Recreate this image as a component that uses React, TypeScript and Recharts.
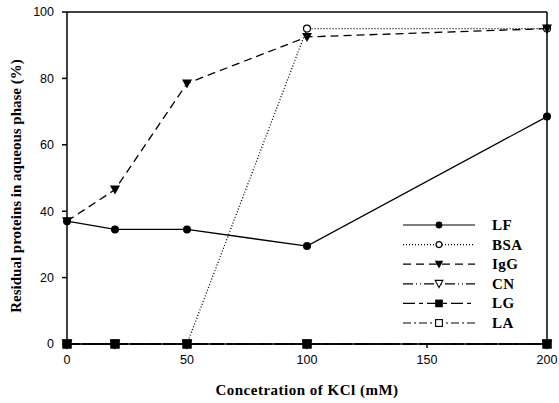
import { LineChart, Line, XAxis, YAxis, ReferenceLine } from "recharts";

// KCl concentration (mM) and residual protein (%) for each protein
const kcl = [0, 20, 50, 100, 200];
const lf = [37, 34.5, 34.5, 29.5, 68.5];
const bsa = [0, 0, 0, 95, 95];
const igg = [37, 46.5, 78.5, 92.5, 95];
const cn = [0, 0, 0, 0, 0];
const lg = [0, 0, 0, 0, 0];
const la = [0, 0, 0, 0, 0];

const xTicks = [0, 50, 100, 150, 200];
const yTicks = [0, 20, 40, 60, 80, 100];

const data = kcl.map((c, i) => ({
  kcl: c,
  LF: lf[i],
  BSA: bsa[i],
  IgG: igg[i],
  CN: cn[i],
  LG: lg[i],
  LA: la[i],
}));

type Shape = "circle" | "openCircle" | "tri" | "openTri" | "square" | "openSquare";

const series: { key: string; dash?: string; shape: Shape }[] = [
  { key: "BSA", dash: "1 2", shape: "openCircle" },
  { key: "CN", dash: "10 3 1 3 1 3", shape: "openTri" },
  { key: "LA", dash: "8 3 2 3", shape: "openSquare" },
  { key: "LF", shape: "circle" },
  { key: "IgG", dash: "8 5", shape: "tri" },
  { key: "LG", dash: "12 4 4 4", shape: "square" },
];

const legendOrder = ["LF", "BSA", "IgG", "CN", "LG", "LA"];

function Marker({ cx, cy, shape, s = 1 }: { cx: number; cy: number; shape: Shape; s?: number }) {
  switch (shape) {
    case "circle":
      return <circle cx={cx} cy={cy} r={4 * s} fill="#000" />;
    case "openCircle":
      return <circle cx={cx} cy={cy} r={3.5 * s} fill="#fff" stroke="#000" strokeWidth={1.2} />;
    case "tri":
      return (
        <path d={`M${cx - 5 * s},${cy - 4 * s} L${cx + 5 * s},${cy - 4 * s} L${cx},${cy + 5 * s} Z`} fill="#000" />
      );
    case "openTri":
      return (
        <path
          d={`M${cx - 4.5 * s},${cy - 4 * s} L${cx + 4.5 * s},${cy - 4 * s} L${cx},${cy + 4.5 * s} Z`}
          fill="#fff"
          stroke="#000"
          strokeWidth={1.1}
        />
      );
    case "square":
      return <rect x={cx - 4.5 * s} y={cy - 4.5 * s} width={9 * s} height={9 * s} fill="#000" />;
    default:
      return (
        <rect x={cx - 4 * s} y={cy - 4 * s} width={8 * s} height={8 * s} fill="#fff" stroke="#000" strokeWidth={1.1} />
      );
  }
}

const shapeOf = (k: string) => series.find((s) => s.key === k)!;

const LegendBox = () => (
  <svg width={160} height={125}>
    {legendOrder.map((k, i) => {
      const s = shapeOf(k);
      const y = 8 + i * 19.6;
      return (
        <g key={k}>
          <line x1={3} x2={75} y1={y} y2={y} stroke="#000" strokeWidth={1.2} strokeDasharray={s.dash} />
          <Marker cx={39} cy={y} shape={s.shape} s={0.85} />
          <text
            x={92}
            y={y + 5}
            fontFamily="'Liberation Serif', serif"
            fontWeight="bold"
            fontSize={15}
            letterSpacing={0.4}
            fill="#000"
          >
            {k}
          </text>
        </g>
      );
    })}
  </svg>
);

const tickStyle = { fontFamily: "'Liberation Sans', Arial, sans-serif", fontSize: 12.5, fill: "#000" };
const titleFont = "'Liberation Serif', 'Times New Roman', serif";

export default function App() {
  return (
    <div style={{ position: "absolute", left: 0, top: 0, width: 559, height: 403, background: "#fff" }}>
      <LineChart width={559} height={403} data={data} margin={{ top: 12, right: 12, bottom: 0, left: 0 }}>
        <XAxis
          dataKey="kcl"
          type="number"
          domain={[0, 200]}
          ticks={xTicks}
          height={59}
          tickSize={4}
          tickMargin={7}
          stroke="#000"
          strokeWidth={1.5}
          tick={tickStyle}
          label={{
            content: ({ viewBox }: any) => (
              <text
                x={viewBox.x + viewBox.width / 2}
                y={395}
                textAnchor="middle"
                fontFamily={titleFont}
                fontWeight="bold"
                fontSize={15}
                letterSpacing={0.5}
                fill="#000"
              >
                Concetration of KCl (mM)
              </text>
            ),
          }}
        />
        <YAxis
          type="number"
          domain={[0, 100]}
          ticks={yTicks}
          width={67}
          tickSize={5}
          tickMargin={8}
          stroke="#000"
          strokeWidth={1.5}
          tick={tickStyle}
          label={{
            content: ({ viewBox }: any) => {
              const cy = viewBox.y + viewBox.height / 2 + 8;
              return (
                <text
                  x={16}
                  y={cy}
                  transform={`rotate(-90 16 ${cy})`}
                  textAnchor="middle"
                  dominantBaseline="central"
                  fontFamily={titleFont}
                  fontWeight="bold"
                  fontSize={15}
                  fill="#000"
                >
                  Residual proteins in aqueous phase (%)
                </text>
              );
            },
          }}
        />
        <ReferenceLine y={100} stroke="#000" strokeWidth={1.5} />
        <ReferenceLine x={200} stroke="#000" strokeWidth={1.5} />
        {series.map((s) => (
          <Line
            key={s.key}
            dataKey={s.key}
            type="linear"
            stroke="#000"
            strokeWidth={1.3}
            strokeDasharray={s.dash}
            isAnimationActive={false}
            dot={(p: any) => <Marker key={`${s.key}-${p.index}`} cx={p.cx} cy={p.cy} shape={s.shape} />}
            activeDot={false}
          />
        ))}
      </LineChart>
      <div style={{ position: "absolute", left: 400, top: 217 }}>
        <LegendBox />
      </div>
    </div>
  );
}
